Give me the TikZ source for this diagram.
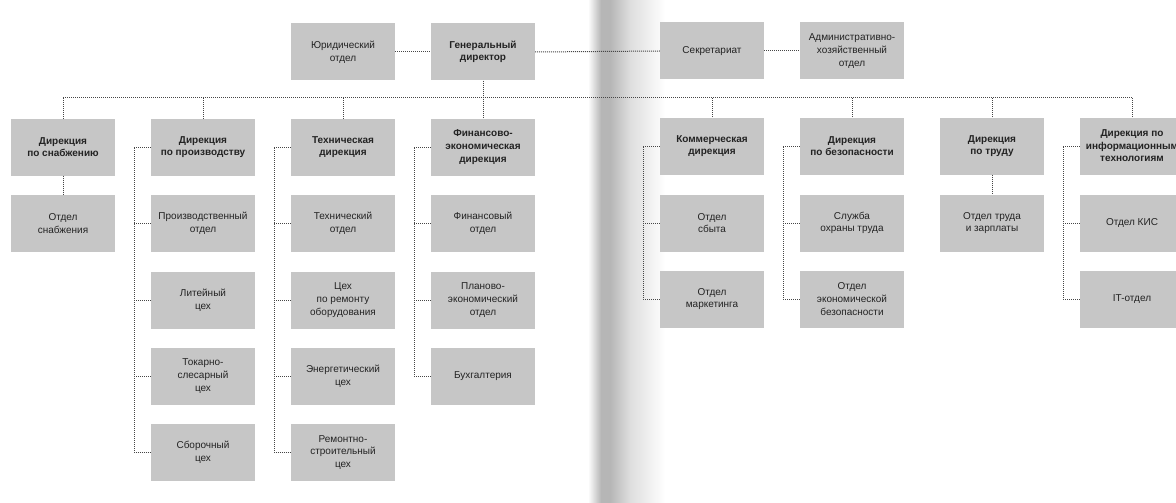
\documentclass[tikz,border=0pt]{standalone}
\usepackage{fontspec}
\setmainfont{Liberation Sans}
\definecolor{boxgray}{RGB}{198,198,198}
\definecolor{ink}{RGB}{35,35,35}
\definecolor{linegray}{RGB}{70,70,70}
\definecolor{gutter}{RGB}{182,182,182}
\definecolor{gutterlight}{RGB}{222,222,222}
\begin{document}
\begin{tikzpicture}[x=1pt,y=-1pt,
  box/.style={fill=boxgray, minimum width=104pt, minimum height=57pt, align=center,
    inner sep=1pt, text=ink, font=\fontsize{10}{12.6}\selectfont},
  dbox/.style={box, font=\fontsize{10}{12.6}\selectfont\bfseries},
  conn/.style={draw=linegray, line width=1pt, dash pattern=on 1pt off 1pt}]
\useasboundingbox (0,0) rectangle (1176,503);
\fill[white] (0,0) rectangle (1176,503);
% book gutter
\shade[left color=white, right color=gutter] (588,0) rectangle (601,503);
\fill[gutter] (601,0) rectangle (610,503);
\shade[left color=gutter, right color=gutterlight] (610,0) rectangle (630,503);
\shade[left color=gutterlight, right color=white] (630,0) rectangle (665,503);

% top row
\node[box]  (jur) at (343,52) {Юридический\\отдел};
\node[dbox] (gen) at (483,52) {Генеральный\\директор};
\node[box]  (sec) at (712,51) {Секретариат};
\node[box]  (adm) at (852,51) {Административно-\\хозяйственный\\отдел};

% directorates
\node[dbox] (d1) at (63,147)  {Дирекция\\по снабжению};
\node[dbox] (d2) at (203,147) {Дирекция\\по производству};
\node[dbox] (d3) at (343,147) {Техническая\\дирекция};
\node[dbox] (d4) at (483,147) {Финансово-\\экономическая\\дирекция};
\node[dbox] (d5) at (712,146) {Коммерческая\\дирекция};
\node[dbox] (d6) at (852,146) {Дирекция\\по безопасности};
\node[dbox] (d7) at (992,146) {Дирекция\\по труду};
\node[dbox] (d8) at (1132,146) {Дирекция по\\информационным\\технологиям};

% row 3
\node[box] (a1) at (63,223.5)  {Отдел\\снабжения};
\node[box] (a2) at (203,223.5) {Производственный\\отдел};
\node[box] (a3) at (343,223.5) {Технический\\отдел};
\node[box] (a4) at (483,223.5) {Финансовый\\отдел};
\node[box] (a5) at (712,223)   {Отдел\\сбыта};
\node[box] (a6) at (852,223)   {Служба\\охраны труда};
\node[box] (a7) at (992,223)   {Отдел труда\\и зарплаты};
\node[box] (a8) at (1132,223)  {Отдел КИС};

% row 4
\node[box] (b2) at (203,300) {Литейный\\цех};
\node[box] (b3) at (343,300) {Цех\\по ремонту\\оборудования};
\node[box] (b4) at (483,300) {Планово-\\экономический\\отдел};
\node[box] (b5) at (712,299) {Отдел\\маркетинга};
\node[box] (b6) at (852,299) {Отдел\\экономической\\безопасности};
\node[box] (b8) at (1132,299) {IT-отдел};

% row 5
\node[box] (c2) at (203,376) {Токарно-\\слесарный\\цех};
\node[box] (c3) at (343,376) {Энергетический\\цех};
\node[box] (c4) at (483,376) {Бухгалтерия};

% row 6
\node[box] (e2) at (203,452.5) {Сборочный\\цех};
\node[box] (e3) at (343,452.5) {Ремонтно-\\строительный\\цех};

% helper coordinates
\coordinate (h)  at (0,98);
\coordinate (s2) at (134,0);
\coordinate (s3) at (274,0);
\coordinate (s4) at (414,0);
\coordinate (s5) at (643,0);
\coordinate (s6) at (783,0);
\coordinate (s8) at (1063,0);

% top connectors
\draw[conn] (jur.east) -- (gen.west);
\draw[conn] (gen.east) -- (sec.west);
\draw[conn] (sec.east) -- (adm.west);
\draw[conn] (gen.south) -- (d4.north);
\draw[conn] (d1.north |- h) -- (d8.north |- h);
\foreach \d in {d1,d2,d3,d5,d6,d7,d8}
  \draw[conn] (\d.north |- h) -- (\d.north);

% straight down
\draw[conn] (d1.south) -- (a1.north);
\draw[conn] (d7.south) -- (a7.north);

% side trees
\draw[conn] (d2.west) -| (s2 |- e2.west) -- (e2.west);
\foreach \c in {a2,b2,c2} \draw[conn] (s2 |- \c.west) -- (\c.west);
\draw[conn] (d3.west) -| (s3 |- e3.west) -- (e3.west);
\foreach \c in {a3,b3,c3} \draw[conn] (s3 |- \c.west) -- (\c.west);
\draw[conn] (d4.west) -| (s4 |- c4.west) -- (c4.west);
\foreach \c in {a4,b4} \draw[conn] (s4 |- \c.west) -- (\c.west);
\draw[conn] (d5.west) -| (s5 |- b5.west) -- (b5.west);
\draw[conn] (s5 |- a5.west) -- (a5.west);
\draw[conn] (d6.west) -| (s6 |- b6.west) -- (b6.west);
\draw[conn] (s6 |- a6.west) -- (a6.west);
\draw[conn] (d8.west) -| (s8 |- b8.west) -- (b8.west);
\draw[conn] (s8 |- a8.west) -- (a8.west);
\end{tikzpicture}
\end{document}
